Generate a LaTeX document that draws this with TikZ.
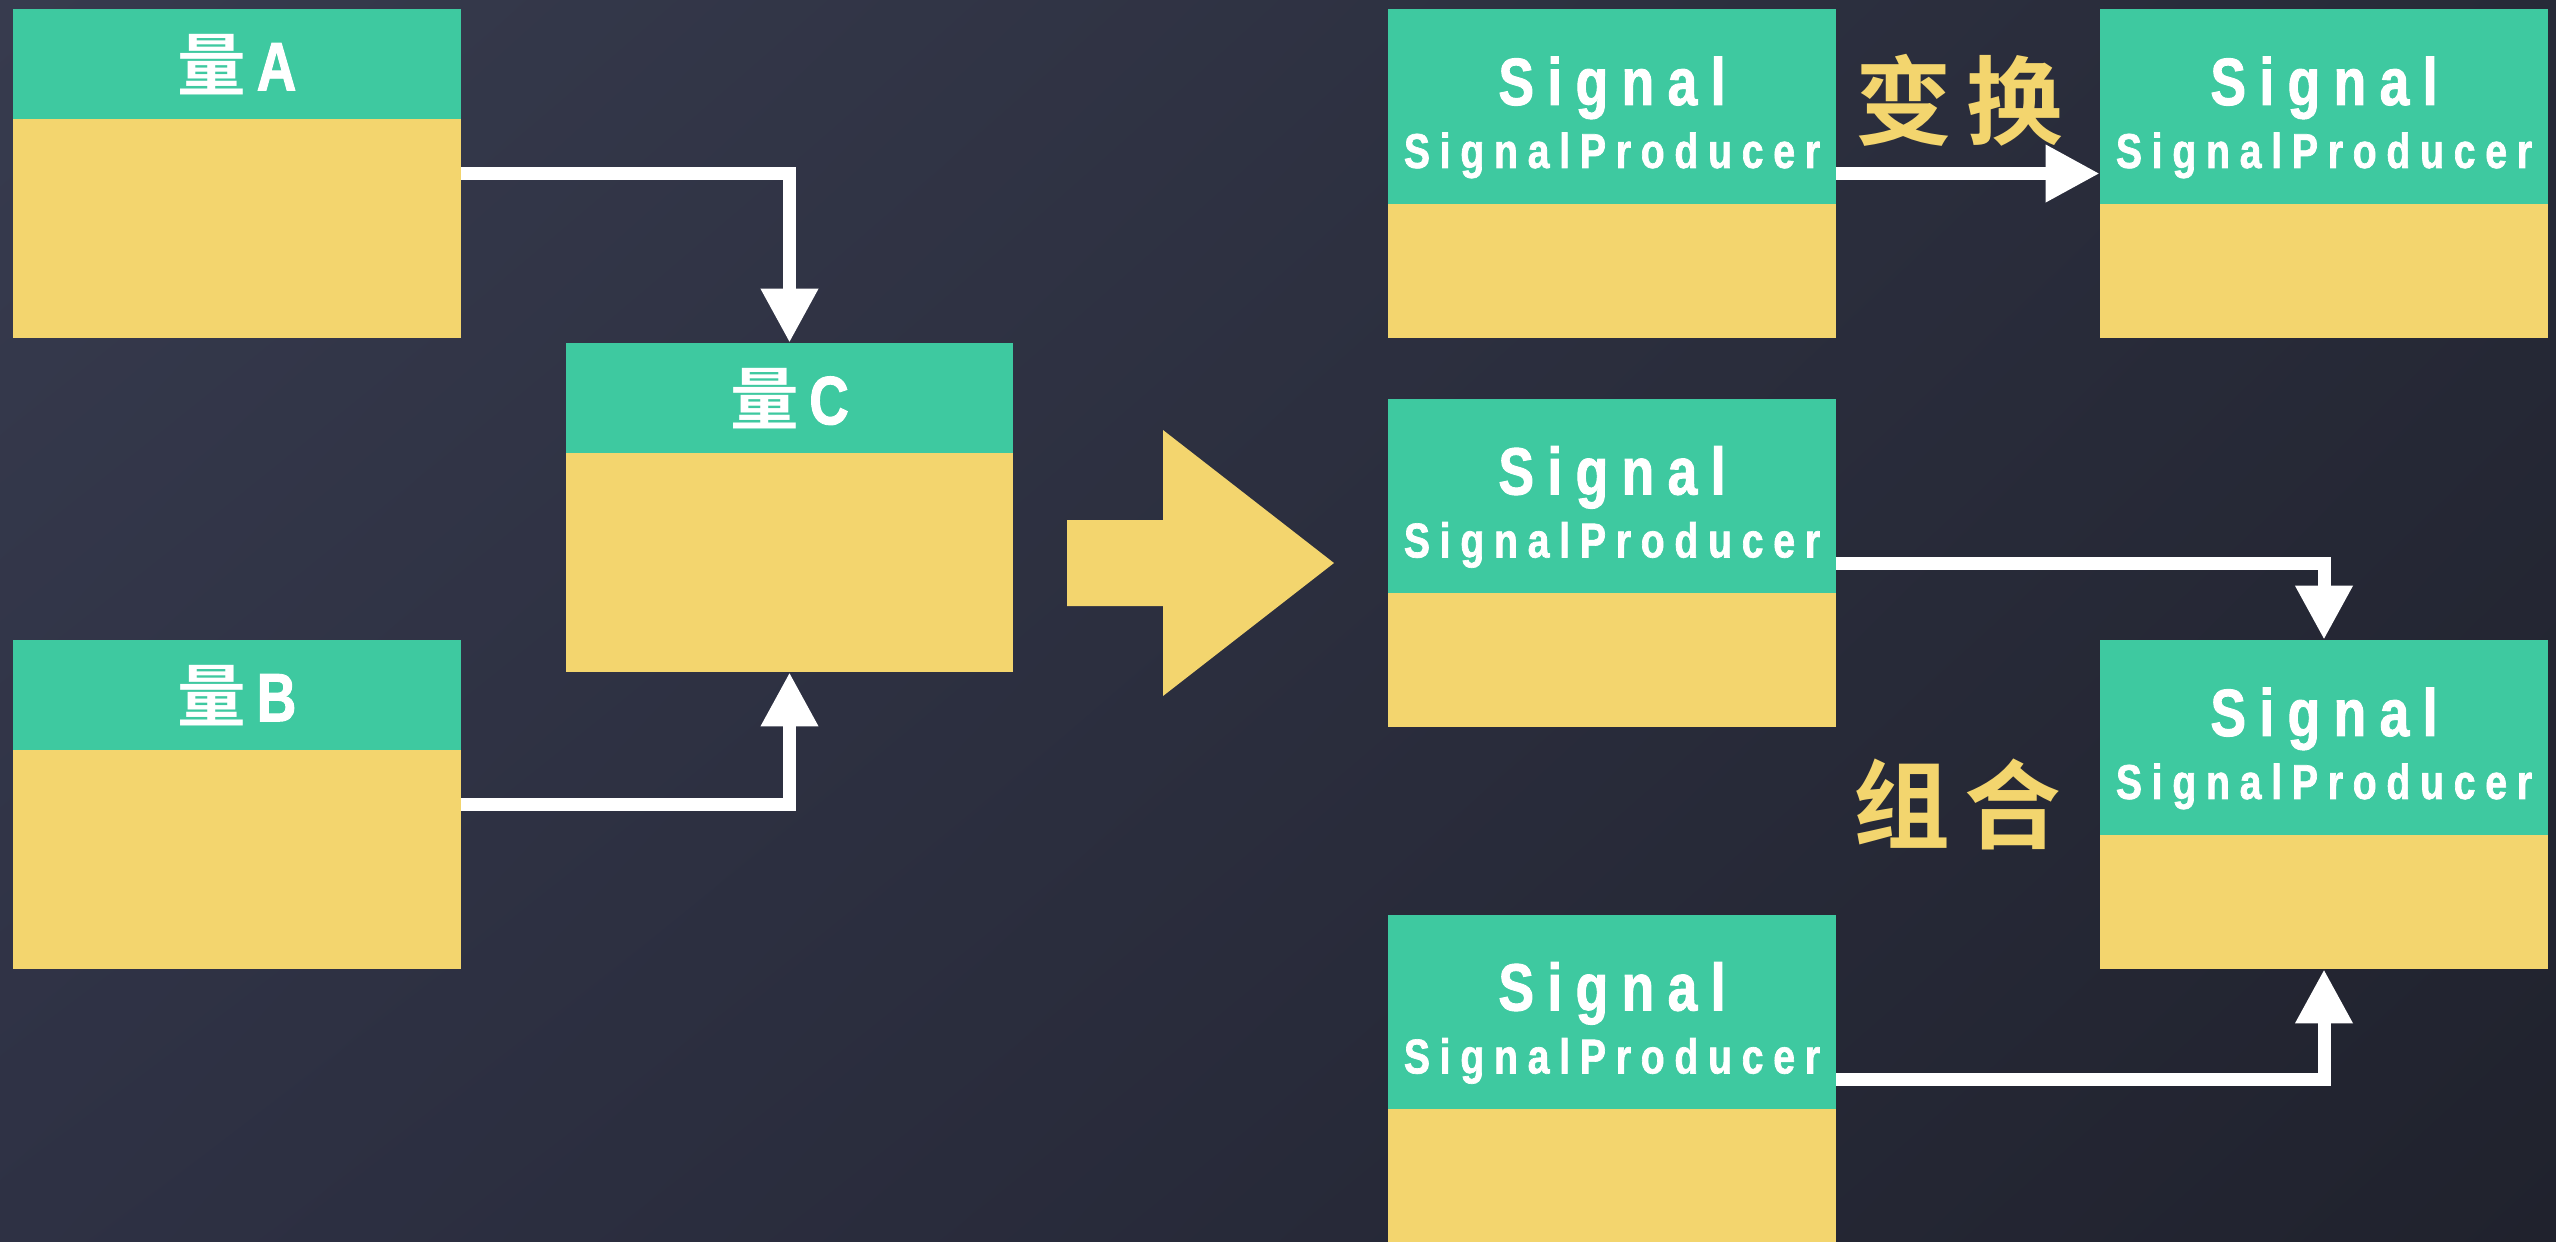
\documentclass[tikz,border=0pt]{standalone}
\usepackage{fontspec}
\usepackage{xcolor}
\usepackage{tikz}
\usetikzlibrary{arrows.meta,shadings}
\setmainfont{Liberation Sans}
\newfontfamily\condfont{Liberation Sans}[FakeStretch=0.8,LetterSpace=20,UprightFont={* Bold},FakeBold=1.4]
\newfontfamily\cjk{Noto Sans CJK SC}[BoldFont={Noto Sans CJK SC Bold}]
\definecolor{bgtl}{HTML}{373B4E}
\definecolor{bgtr}{HTML}{272A38}
\definecolor{bgbl}{HTML}{2E3144}
\definecolor{bgbr}{HTML}{20222D}
\definecolor{cardg}{HTML}{3EC9A0}
\definecolor{cardy}{HTML}{F3D56E}
\tikzset{
  body/.style={fill=cardy, minimum width=4.47cm, minimum height=3.28cm, inner sep=0pt},
  qhead/.style={
    fill=cardg, anchor=north, inner sep=0pt,
    minimum width=4.47cm, minimum height=1.10cm,
    text=white, font=\condfont\fontsize{19.5}{23}\selectfont
  },
  shead/.style={
    fill=cardg, anchor=north, inner sep=0pt, align=center,
    minimum width=4.47cm, minimum height=1.94cm,
    text=white, font=\condfont\fontsize{13.9}{17.9}\selectfont
  },
  link/.style={draw=white, line width=0.13cm, -{Triangle[length=0.54cm,width=0.54cm]}},
  op/.style={text=cardy, font=\cjk\bfseries\fontsize{27.5}{30}\selectfont}
}
\newcommand{\sighead}{\rule{0pt}{20pt}{\fontsize{19}{19}\selectfont Signal}\\SignalProducer}

\begin{document}
\begin{tikzpicture}[x=0.01cm, y=-0.01cm]
  \useasboundingbox (0,0) rectangle (2556,1241);
  \shade[upper left=bgtl, upper right=bgtr, lower left=bgbl, lower right=bgbr]
    (0,0) rectangle (2556,1241);

  % left side: two values give a third
  \node[body] (A) at (237,173.5) {};
  \node[qhead] (A-h) at (A.north) {{\cjk\bfseries 量}\hspace{3pt}A};
  \node[body] (B) at (237,804.5) {};
  \node[qhead] (B-h) at (B.north) {{\cjk\bfseries 量}\hspace{3pt}B};
  \node[body] (C) at (789.5,507.5) {};
  \node[qhead] (C-h) at (C.north) {{\cjk\bfseries 量}\hspace{3pt}C};

  \draw[link] (A.east) -| (C.north);
  \draw[link] (B.east) -| (C.south);

  % big arrow
  \fill[cardy] (1067,520) -- (1163,520) -- (1163,430) -- (1334,563)
    -- (1163,696) -- (1163,606) -- (1067,606) -- cycle;

  % right side: signals
  \node[body] (S1) at (1612,173.5) {};
  \node[shead] (S1-h) at (S1.north) {\sighead};
  \node[body] (S2) at (2324,173.5) {};
  \node[shead] (S2-h) at (S2.north) {\sighead};
  \node[body] (S3) at (1612,563) {};
  \node[shead] (S3-h) at (S3.north) {\sighead};
  \node[body] (S4) at (1612,1079) {};
  \node[shead] (S4-h) at (S4.north) {\sighead};
  \node[body] (S5) at (2324,804.5) {};
  \node[shead] (S5-h) at (S5.north) {\sighead};

  \draw[link] (S1.east) -- (S2.west);
  \node[op] (xform) at (1959,100) {变\hspace{4pt}换};

  \draw[link] (S3.east) -| (S5.north);
  \draw[link] (S4.east) -| (S5.south);
  \node[op] (merge) at (1957,804) {组\hspace{4pt}合};
\end{tikzpicture}
\end{document}
